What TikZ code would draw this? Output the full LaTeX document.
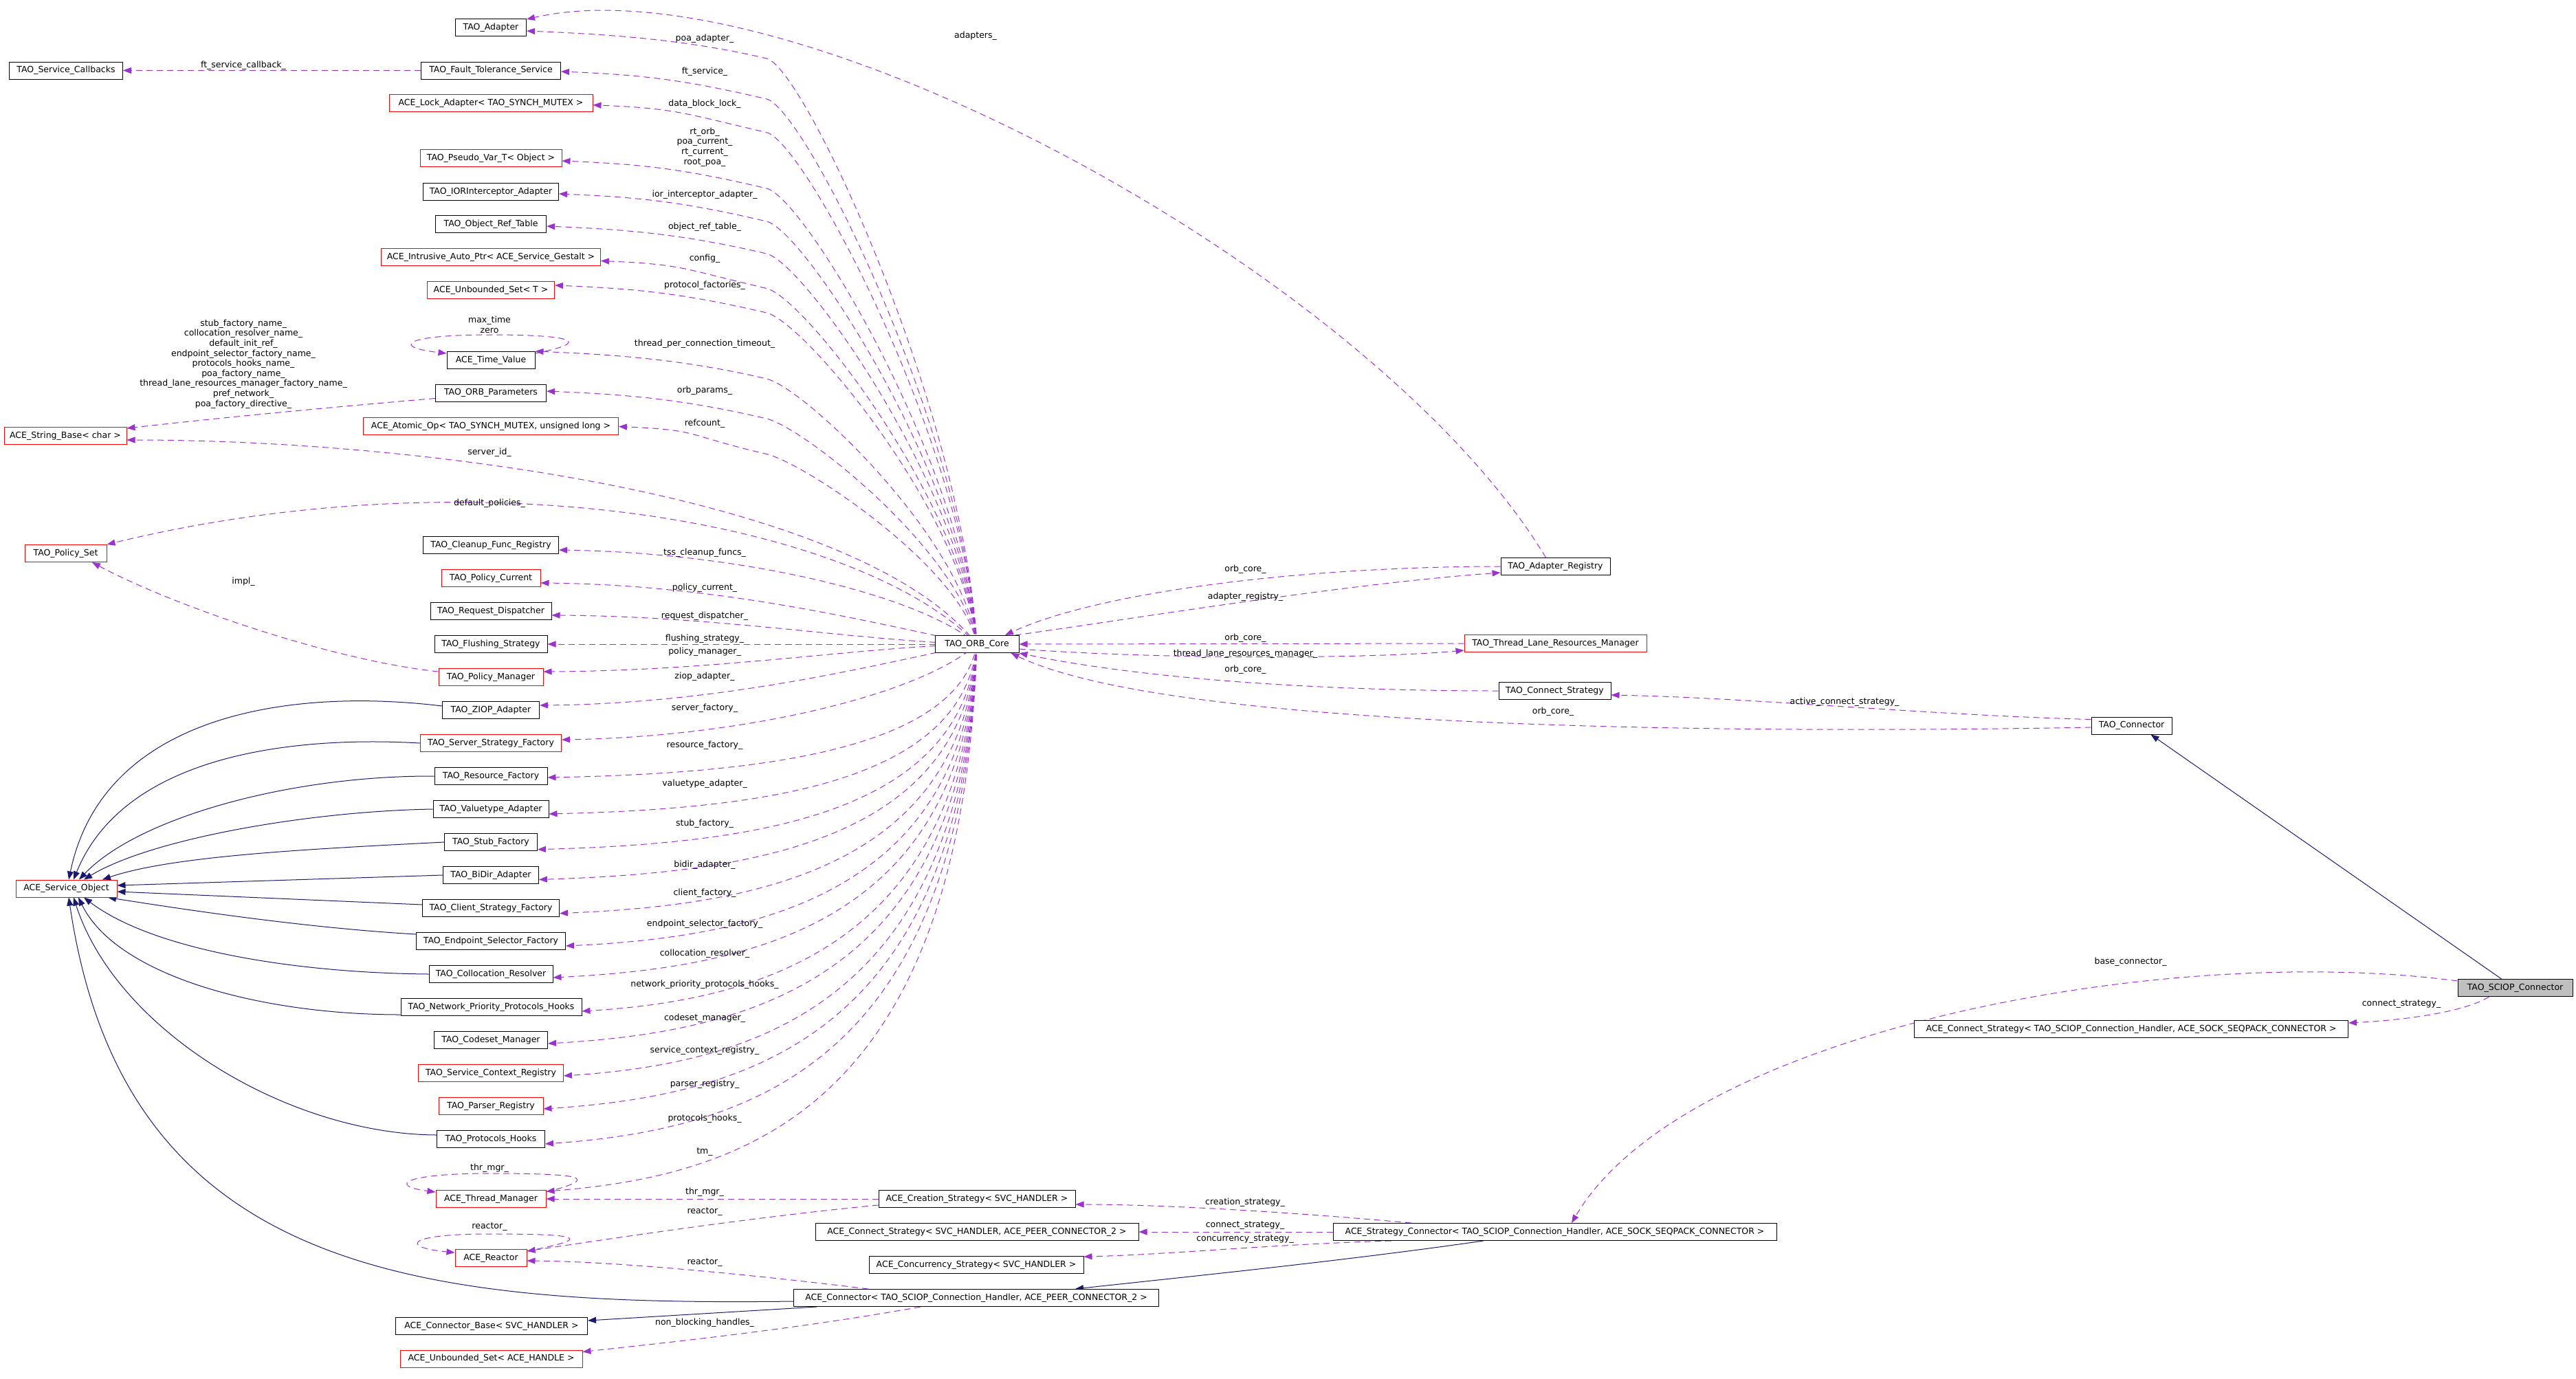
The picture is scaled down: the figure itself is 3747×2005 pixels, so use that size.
\documentclass[tikz,border=0pt]{standalone}
\usepackage{fontspec}
\setmainfont{DejaVu Sans}
\usetikzlibrary{arrows.meta}
\definecolor{usecol}{HTML}{9A32CD}
\definecolor{inhcol}{HTML}{191970}
\definecolor{basegray}{HTML}{BFBFBF}
\pgfdeclarelayer{edges}
\pgfsetlayers{edges,main}

\begin{document}
\begin{tikzpicture}[
    x=1pt, y=-1pt,
    every node/.style={font=\fontsize{12.5}{14.6}\selectfont},
    cls/.style={rectangle, draw=black, fill=white, line width=1pt, minimum height=25pt, inner xsep=6pt, inner ysep=0pt},
    clsred/.style={cls, draw=red},
    clsbase/.style={cls, fill=basegray},
    lbl/.style={inner sep=0pt, align=center},
    memb/.style={draw=usecol, line width=1pt, dash pattern=on 9pt off 6pt, -{Triangle[length=12pt, width=9pt]}},
    inher/.style={draw=inhcol, line width=1pt, -{Triangle[length=12pt, width=9pt]}}
]
\useasboundingbox (0,0) rectangle (3747,2005);

% left column
\node (adapter) [cls, minimum width=103pt] at (714,40) {TAO\_Adapter};
\node (svccb) [cls, minimum width=165pt] at (96,102.5) {TAO\_Service\_Callbacks};
\node (ftsvc) [cls, minimum width=203pt] at (714,102.5) {TAO\_Fault\_Tolerance\_Service};
\node (lockad) [clsred, minimum width=296pt] at (714,150) {ACE\_Lock\_Adapter< TAO\_SYNCH\_MUTEX >};
\node (pseudo) [clsred, minimum width=206pt] at (714,230) {TAO\_Pseudo\_Var\_T< Object >};
\node (iorint) [cls, minimum width=197pt] at (714,279) {TAO\_IORInterceptor\_Adapter};
\node (objref) [cls, minimum width=161pt] at (714,326) {TAO\_Object\_Ref\_Table};
\node (gestalt) [clsred, minimum width=319pt] at (714,374) {ACE\_Intrusive\_Auto\_Ptr< ACE\_Service\_Gestalt >};
\node (uset) [clsred, minimum width=185pt] at (714,422) {ACE\_Unbounded\_Set< T >};
\node (timeval) [cls, minimum width=128pt] at (714,524) {ACE\_Time\_Value};
\node (orbparams) [cls, minimum width=161pt] at (714,571.5) {TAO\_ORB\_Parameters};
\node (atomic) [clsred, minimum width=371pt] at (714,620) {ACE\_Atomic\_Op< TAO\_SYNCH\_MUTEX, unsigned long >};
\node (strbase) [clsred, minimum width=178pt] at (95,634) {ACE\_String\_Base< char >};
\node (polset) [clsred, minimum width=119pt] at (95.5,805) {TAO\_Policy\_Set};
\node (cleanup) [cls, minimum width=197pt] at (714,793) {TAO\_Cleanup\_Func\_Registry};
\node (polcur) [clsred, minimum width=144pt] at (714,841) {TAO\_Policy\_Current};
\node (reqdisp) [cls, minimum width=176pt] at (714,889) {TAO\_Request\_Dispatcher};
\node (flush) [cls, minimum width=164pt] at (714,937) {TAO\_Flushing\_Strategy};
\node (polmgr) [clsred, minimum width=152pt] at (714,985) {TAO\_Policy\_Manager};
\node (ziop) [cls, minimum width=141pt] at (714,1033) {TAO\_ZIOP\_Adapter};
\node (srvfac) [clsred, minimum width=205pt] at (714,1081) {TAO\_Server\_Strategy\_Factory};
\node (resfac) [cls, minimum width=164pt] at (714,1129) {TAO\_Resource\_Factory};
\node (valtype) [cls, minimum width=168pt] at (714,1177) {TAO\_Valuetype\_Adapter};
\node (stubfac) [cls, minimum width=135pt] at (714,1225) {TAO\_Stub\_Factory};
\node (bidir) [cls, minimum width=139pt] at (714,1273) {TAO\_BiDir\_Adapter};
\node (clifac) [cls, minimum width=199pt] at (714,1321) {TAO\_Client\_Strategy\_Factory};
\node (svcobj) [clsred, minimum width=147pt] at (96.5,1292.5) {ACE\_Service\_Object};
\node (endpt) [cls, minimum width=217pt] at (714,1369) {TAO\_Endpoint\_Selector\_Factory};
\node (colloc) [cls, minimum width=180pt] at (714,1417) {TAO\_Collocation\_Resolver};
\node (netprio) [cls, minimum width=263pt] at (714.5,1465) {TAO\_Network\_Priority\_Protocols\_Hooks};
\node (codeset) [cls, minimum width=165pt] at (714,1513) {TAO\_Codeset\_Manager};
\node (svcctx) [clsred, minimum width=211pt] at (714,1561) {TAO\_Service\_Context\_Registry};
\node (parser) [clsred, minimum width=152pt] at (714,1609) {TAO\_Parser\_Registry};
\node (prothooks) [cls, minimum width=157pt] at (714,1657) {TAO\_Protocols\_Hooks};
\node (thrmgr) [clsred, minimum width=160pt] at (714,1744) {ACE\_Thread\_Manager};
\node (reactor) [clsred, minimum width=104pt] at (714,1830) {ACE\_Reactor};
\node (connbase) [cls, minimum width=279pt] at (715,1929) {ACE\_Connector\_Base< SVC\_HANDLER >};
\node (usethandle) [clsred, minimum width=265pt] at (714.5,1976.5) {ACE\_Unbounded\_Set< ACE\_HANDLE >};

% right part
\node (orbcore) [cls, minimum width=122pt] at (1421,937) {TAO\_ORB\_Core};
\node (adreg) [cls, minimum width=159pt] at (2262.5,824) {TAO\_Adapter\_Registry};
\node (tlrm) [clsred, minimum width=265pt] at (2262.5,936) {TAO\_Thread\_Lane\_Resources\_Manager};
\node (connstrat) [cls, minimum width=163pt] at (2261.5,1005) {TAO\_Connect\_Strategy};
\node (taoconn) [cls, minimum width=117pt] at (3100.5,1055.5) {TAO\_Connector};
\node (sciop) [clsbase, minimum width=167pt] at (3658.5,1437) {TAO\_SCIOP\_Connector};
\node (aceconnstrat2) [cls, minimum width=631pt] at (3100,1497) {ACE\_Connect\_Strategy< TAO\_SCIOP\_Connection\_Handler, ACE\_SOCK\_SEQPACK\_CONNECTOR >};
\node (creation) [cls, minimum width=286pt] at (1421,1744) {ACE\_Creation\_Strategy< SVC\_HANDLER >};
\node (connstratsvc) [cls, minimum width=470pt] at (1421,1792) {ACE\_Connect\_Strategy< SVC\_HANDLER, ACE\_PEER\_CONNECTOR\_2 >};
\node (stratconn) [cls, minimum width=645pt] at (2261.5,1792) {ACE\_Strategy\_Connector< TAO\_SCIOP\_Connection\_Handler, ACE\_SOCK\_SEQPACK\_CONNECTOR >};
\node (concur) [cls, minimum width=312pt] at (1420,1840) {ACE\_Concurrency\_Strategy< SVC\_HANDLER >};
\node (aceconn) [cls, minimum width=531pt] at (1420,1888) {ACE\_Connector< TAO\_SCIOP\_Connection\_Handler, ACE\_PEER\_CONNECTOR\_2 >};

% edge labels
\foreach \n/\x/\y/\txt in {
    l-adapters/1419/52/adapters\_, l-poa/1025/56/poa\_adapter\_,
    l-ftcb/354/95/ft\_service\_callback\_, l-ftsvc/1025/104/ft\_service\_,
    l-dbl/1025/151/data\_block\_lock\_,
    l-rtorb/1025/214/{rt\_orb\_\\poa\_current\_\\rt\_current\_\\root\_poa\_},
    l-ior/1025/283.5/ior\_interceptor\_adapter\_, l-objref/1025/330/object\_ref\_table\_,
    l-config/1025/376/config\_, l-protfac/1025/415/protocol\_factories\_,
    l-maxtime/712/472.5/{max\_time\\zero}, l-tpct/1025/500/thread\_per\_connection\_timeout\_,
    l-names/354/529.5/{stub\_factory\_name\_\\collocation\_resolver\_name\_\\default\_init\_ref\_\\endpoint\_selector\_factory\_name\_\\protocols\_hooks\_name\_\\poa\_factory\_name\_\\thread\_lane\_resources\_manager\_factory\_name\_\\pref\_network\_\\poa\_factory\_directive\_},
    l-orbparams/1025/568/orb\_params\_, l-refcount/1025/616/refcount\_,
    l-serverid/712/658.5/server\_id\_, l-defpol/712/732.6/default\_policies\_,
    l-tss/1025/804.5/tss\_cleanup\_funcs\_, l-impl/354/846/impl\_,
    l-polcur/1025/855/policy\_current\_, l-reqdisp/1025/896/request\_dispatcher\_,
    l-flush/1025/929/flushing\_strategy\_, l-polmgr/1025/948.7/policy\_manager\_,
    l-ziop/1025/984/ziop\_adapter\_, l-srvfac/1025/1030/server\_factory\_,
    l-resfac/1025/1084/resource\_factory\_, l-valtype/1025/1140/valuetype\_adapter\_,
    l-stubfac/1025/1198.7/stub\_factory\_, l-bidir/1025/1258/bidir\_adapter\_,
    l-clifac/1025/1299.6/client\_factory\_, l-endpt/1025/1344/endpoint\_selector\_factory\_,
    l-colloc/1025/1387/collocation\_resolver\_, l-netprio/1025/1432.6/network\_priority\_protocols\_hooks\_,
    l-codeset/1025/1481/codeset\_manager\_, l-svcctx/1025/1528.7/service\_context\_registry\_,
    l-parser/1025/1577/parser\_registry\_, l-prothooks/1025/1627/protocols\_hooks\_,
    l-tm/1025/1676/tm\_, l-thrloop/712/1699/thr\_mgr\_, l-thrmgr/1025/1734.7/thr\_mgr\_,
    l-reactor1/1025/1762.6/reactor\_, l-reacloop/712/1785/reactor\_,
    l-reactor2/1025/1837/reactor\_, l-nbh/1025/1924/non\_blocking\_handles\_,
    l-orbcore1/1811.5/828/orb\_core\_, l-adreg/1811.5/868/adapter\_registry\_,
    l-orbcore2/1811.5/928.6/orb\_core\_, l-tlrm/1811.5/951/thread\_lane\_resources\_manager\_,
    l-orbcore3/1811.5/974.6/orb\_core\_, l-orbcore4/2259/1035.7/orb\_core\_,
    l-acs/2683/1021/active\_connect\_strategy\_, l-basecon/3099/1399.5/base\_connector\_,
    l-cs1/3493/1460.7/connect\_strategy\_, l-creat/1811/1749/creation\_strategy\_,
    l-cs2/1811/1783/connect\_strategy\_, l-concur/1811/1803/concurrency\_strategy\_}
    \node[lbl] (\n) at (\x,\y) {\txt};

\begin{pgfonlayer}{edges}
% members of TAO_ORB_Core
\foreach \t/\ya/\dy in {adapter/45/-5pt, ftsvc/104/-1.5pt, lockad/152.7/-2.7pt, pseudo/234/-4pt,
    iorint/282/-3pt, objref/329/-3pt, gestalt/379.5/-5.5pt, uset/415/7pt, timeval/511/13pt,
    orbparams/569/2.5pt, atomic/620.5/-0.5pt, cleanup/800/-7pt, polcur/848/-7pt, reqdisp/895/-6pt,
    flush/937/0pt, polmgr/977/8pt, ziop/1026/7pt, srvfac/1076/5pt, resfac/1131/-2pt,
    valtype/1184/-7pt, stubfac/1235.7/-10.7pt, bidir/1279.5/-6.5pt, clifac/1328.6/-7.6pt,
    endpt/1376/-7pt, colloc/1422/-5pt, netprio/1471/-6pt, codeset/1518/-5pt, svcctx/1565/-4pt,
    parser/1613/-4pt, prothooks/1664/-7pt, thrmgr/1733/11pt}{
    \pgfmathsetmacro{\d}{937-\ya}
    \ifdim\d pt>200pt
        \pgfmathsetmacro{\qy}{\ya+40}
        \pgfmathsetmacro{\ay}{937-0.4*(937-\qy)}
        \pgfmathsetmacro{\by}{\qy+13}
        \draw[memb] (orbcore.center) .. controls (1400,\ay) and (1170,\by) .. (1115,\qy)
            .. controls +(-120,-28) and +(120,5) .. ([yshift=\dy]\t.east);
    \else
        \pgfmathsetmacro{\s}{max(0,min(1,(200-abs(\d))/150))}
        \pgfmathsetmacro{\ax}{1400-150*\s}
        \pgfmathsetmacro{\ay}{\ya+(0.17+0.73*\s)*\d}
        \pgfmathsetmacro{\bx}{1100-50*\s}
        \pgfmathsetmacro{\by}{\ya+0.03*\d}
        \draw[memb] (orbcore.center) .. controls (\ax,\ay) and (\bx,\by) .. ([yshift=\dy]\t.east);
    \fi
}
\draw[memb] ([xshift=-14pt]adreg.north) .. controls (2000,400) and (1150,-60) .. ([yshift=12pt]adapter.east);
\draw[memb] (ftsvc.west) -- (svccb.east);
\draw[memb] ([yshift=-8pt]orbparams.west) .. controls (450,595) and (300,610) .. ([yshift=11pt]strbase.east);
\draw[memb] (orbcore.center) .. controls (1250,720) and (600,640) .. ([yshift=-6pt]strbase.east);
\draw[memb] (orbcore.center) .. controls (1250,760) and (700,660) .. (polset.north east);
\draw[memb] ([yshift=8pt]polmgr.west) .. controls (480,960) and (250,880) .. ([xshift=38.5pt]polset.south);
\draw[memb] ([yshift=-3pt]timeval.north east) .. controls (860,498) and (840,487) .. (712,487)
    .. controls (585,487) and (570,505) .. ([yshift=-3pt]timeval.north west);
\draw[memb] ([yshift=-3pt]thrmgr.north east) .. controls (880,1712) and (840,1707) .. (712,1707)
    .. controls (585,1707) and (565,1725) .. ([yshift=-3pt]thrmgr.north west);
\draw[memb] ([yshift=10pt]reactor.east) .. controls (870,1800) and (840,1795) .. (712,1795)
    .. controls (585,1795) and (585,1815) .. ([yshift=-5pt]reactor.north west);
\draw[memb] (creation.west) -- (thrmgr.east);
\draw[memb] ([yshift=-9pt]creation.west) .. controls (1100,1770) and (900,1800) .. ([yshift=10pt]reactor.east);
\draw[memb] ([xshift=-157pt]aceconn.north) .. controls (1100,1855) and (900,1835) .. ([yshift=-4pt]reactor.east);
\draw[memb] ([xshift=-81pt]aceconn.south) .. controls (1150,1935) and (950,1955) .. ([yshift=10pt]usethandle.east);
\draw[memb] (adreg.west) .. controls (1900,824) and (1600,860) .. ([xshift=41pt]orbcore.north);
\draw[memb] ([xshift=-6pt]orbcore.north east) .. controls (1650,900) and (1950,850) .. ([yshift=-9pt]adreg.west);
\draw[memb] (tlrm.west) -- (orbcore.east);
\draw[memb] ([yshift=-7pt]orbcore.east) .. controls (1700,960) and (2000,958) .. ([yshift=-10pt]tlrm.west);
\draw[memb] (connstrat.west) .. controls (1900,1005) and (1650,985) .. (orbcore.south east);
\draw[memb] ([yshift=-2.5pt]taoconn.west) .. controls (2500,1068) and (1700,1060) .. ([xshift=-12pt]orbcore.south east);
\draw[memb] ([yshift=9pt]taoconn.west) .. controls (2800,1040) and (2550,1015) .. ([yshift=-6pt]connstrat.east);
\draw[memb] ([yshift=10pt]sciop.west) .. controls (3150,1370) and (2450,1500) .. ([xshift=24.5pt]stratconn.north);
\draw[memb] ([xshift=-38pt]sciop.south) .. controls (3580,1475) and (3480,1485) .. ([yshift=9pt]aceconnstrat2.east);
\draw[memb] ([xshift=-209pt]stratconn.north) .. controls (1900,1765) and (1700,1752) .. ([yshift=-8pt]creation.east);
\draw[memb] (stratconn.west) -- (connstratsvc.east);
\draw[memb] ([xshift=-238pt]stratconn.south) .. controls (1850,1810) and (1700,1825) .. ([yshift=12pt]concur.east);

% inheritance
\draw[inher] ([yshift=6pt]ziop.west) .. controls (420,1000) and (150,1040) .. ([xshift=3.5pt]svcobj.north);
\draw[inher] (srvfac.west) .. controls (420,1070) and (180,1100) .. ([xshift=10.5pt]svcobj.north);
\draw[inher] (resfac.west) .. controls (420,1128) and (200,1190) .. ([xshift=18.5pt]svcobj.north);
\draw[inher] (valtype.west) .. controls (450,1180) and (220,1220) .. ([xshift=25.5pt]svcobj.north);
\draw[inher] (stubfac.west) .. controls (450,1235) and (250,1245) .. ([xshift=52.5pt]svcobj.north);
\draw[inher] (bidir.west) -- ([yshift=4.5pt]svcobj.east);
\draw[inher] ([yshift=5pt]clifac.west) -- ([yshift=-4.5pt]svcobj.east);
\draw[inher] ([yshift=10pt]endpt.west) .. controls (450,1350) and (280,1325) .. ([xshift=60.5pt]svcobj.south);
\draw[inher] (colloc.west) .. controls (420,1415) and (220,1380) .. ([xshift=25.5pt]svcobj.south);
\draw[inher] ([yshift=-11pt]netprio.west) .. controls (380,1476) and (170,1420) .. ([xshift=17.5pt]svcobj.south);
\draw[inher] ([yshift=6pt]prothooks.west) .. controls (420,1650) and (170,1500) .. ([xshift=10.5pt]svcobj.south);
\draw[inher] ([yshift=-5pt]aceconn.west) .. controls (600,1900) and (180,1850) .. ([xshift=3.5pt]svcobj.south);
\draw[inher] ([xshift=34pt]aceconn.south west) -- ([yshift=8pt]connbase.east);
\draw[inher] ([xshift=-104pt]stratconn.south) .. controls (1950,1835) and (1700,1860) .. ([xshift=144pt]aceconn.north);
\draw[inher] ([xshift=-20pt]sciop.north) -- ([xshift=28pt]taoconn.south);
\end{pgfonlayer}
\end{tikzpicture}
\end{document}
